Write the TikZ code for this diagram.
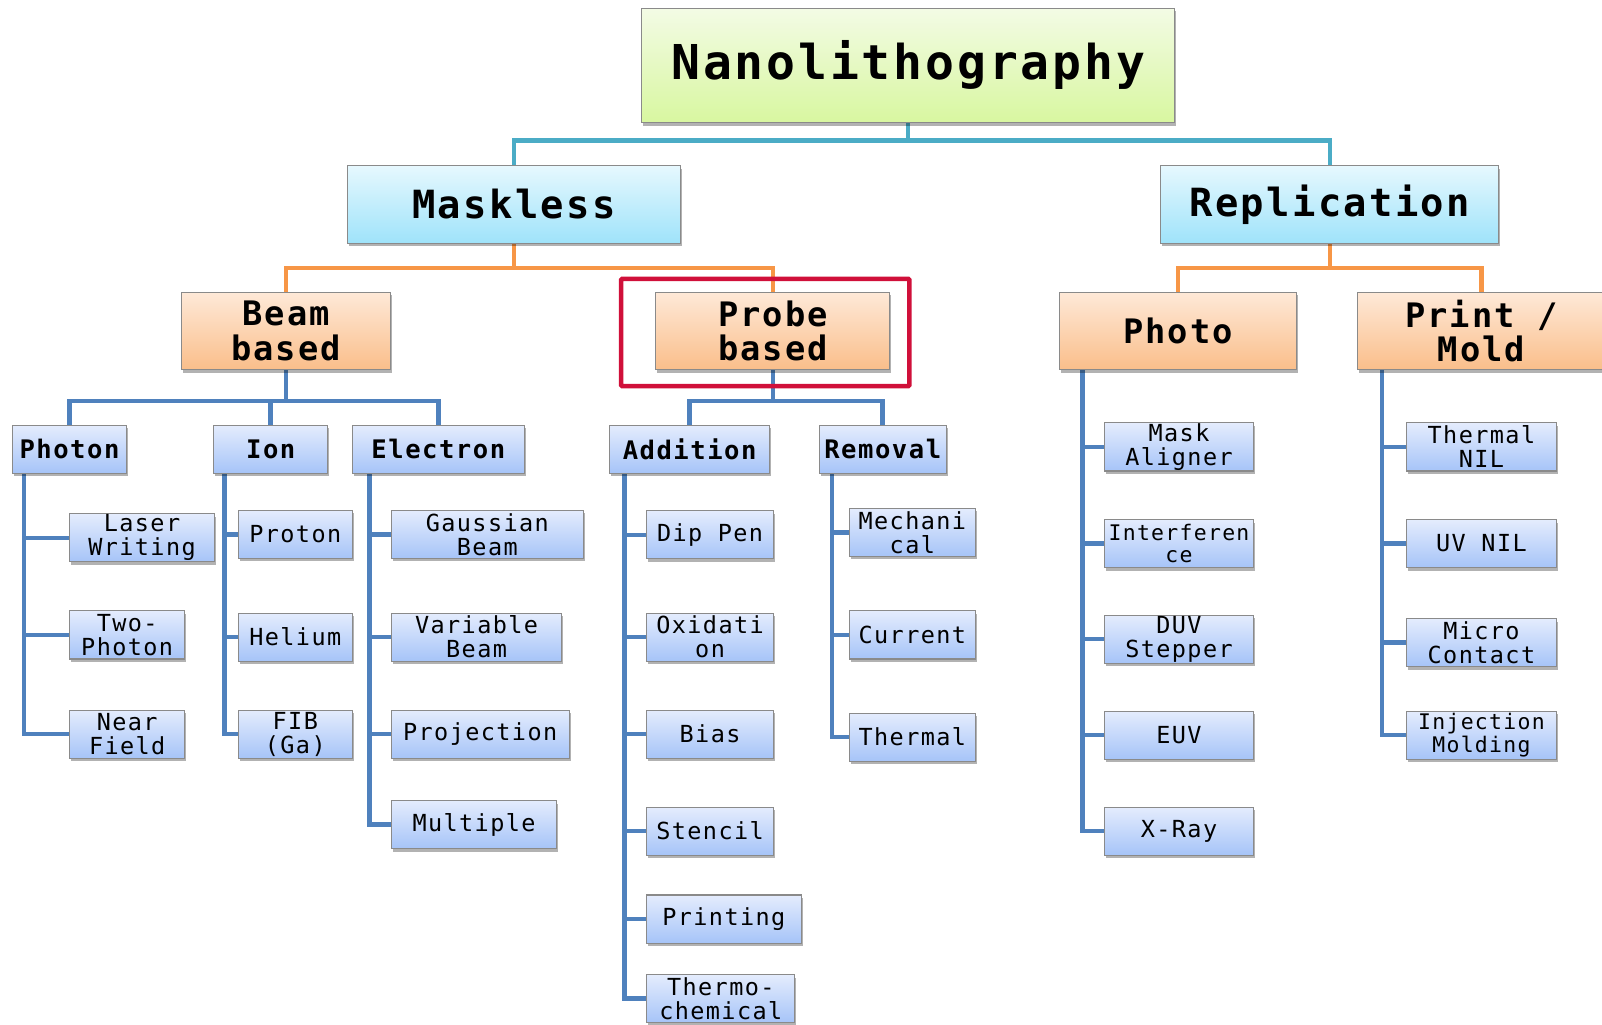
\documentclass[tikz,border=0pt]{standalone}
\usepackage{fontspec}
\newfontfamily\mono[LetterSpace=6]{DejaVu Sans Mono}
\usetikzlibrary{shadows,backgrounds}
\definecolor{tealline}{HTML}{4BACC6}
\definecolor{orangeline}{HTML}{F79646}
\definecolor{blueline}{HTML}{4F81BD}
\definecolor{redhl}{RGB}{208,16,58}
\definecolor{boxborder}{HTML}{8A8A8A}
\definecolor{greentop}{HTML}{F3FBE5}
\definecolor{greenbot}{HTML}{D8F7A0}
\definecolor{cyantop}{HTML}{E6F8FE}
\definecolor{cyanbot}{HTML}{9FE3FA}
\definecolor{orangetop}{HTML}{FEE9D8}
\definecolor{orangebot}{HTML}{FABE8A}
\definecolor{bluetop}{HTML}{E4ECFD}
\definecolor{bluebot}{HTML}{A6C4F8}
\tikzset{
  box/.style={draw=boxborder, line width=1pt, align=center, inner sep=0pt,
    drop shadow={shadow xshift=1.5pt, shadow yshift=-3pt, opacity=0.3, fill=black}},
  toplevel/.style={box, top color=greentop, bottom color=greenbot,
    font=\mono\bfseries\fontsize{47}{50}\selectfont},
  second/.style={box, top color=cyantop, bottom color=cyanbot, minimum height=76pt,
    font=\mono\bfseries\fontsize{38}{40}\selectfont},
  third/.style={box, top color=orangetop, bottom color=orangebot, minimum height=76pt,
    font=\mono\bfseries\fontsize{33}{34}\selectfont},
  fourth/.style={box, top color=bluetop, bottom color=bluebot, minimum height=47pt,
    font=\mono\bfseries\fontsize{25}{26}\selectfont},
  leaf/.style={box, top color=bluetop, bottom color=bluebot, minimum height=47pt,
    font=\mono\fontsize{23}{23.5}\selectfont},
  smallleaf/.style={leaf, font=\mono\fontsize{21}{22}\selectfont},
  tline/.style={draw=tealline, line width=4pt},
  oline/.style={draw=orangeline, line width=4pt},
  bline/.style={draw=blueline, line width=4.5pt},
  hlbox/.style={draw=redhl, line width=4.5pt, rounded corners=1pt, inner sep=0pt}
}
\begin{document}
\begin{tikzpicture}[x=1pt,y=-1pt]
\useasboundingbox (0,0) rectangle (1568,1003);
% level 1
\node[toplevel, minimum width=522pt, minimum height=112pt] (nano) at (889,64) {Nanolithography};
% level 2
\node[second, minimum width=326pt] (mask) at (503,200) {Maskless};
\node[second, minimum width=331pt] (repl) at (1301.5,200) {Replication};
% level 3
\node[third, minimum width=204pt] (beam) at (280,324) {Beam\\based};
\node[third, minimum width=229pt] (probe) at (756.5,324) {Probe\\based};
\node[third, minimum width=232pt] (photo) at (1153,324) {Photo};
\node[third, minimum width=242pt] (print) at (1450,324) {Print /\\Mold};
% level 4
\node[fourth, minimum width=112pt] (photon) at (68,439.5) {Photon};
\node[fourth, minimum width=112pt] (ion) at (265,439.5) {Ion};
\node[fourth, minimum width=168pt] (electron) at (429,439.5) {Electron};
\node[fourth, minimum width=156pt] (addition) at (675,439.5) {Addition};
\node[fourth, minimum width=124pt] (removal) at (864,439.5) {Removal};
% leaves: photon
\node[leaf, minimum width=142pt] (laser) at (139,526.5) {Laser\\Writing};
\node[leaf, minimum width=113pt] (twoph) at (124.5,621.5) {Two-\\Photon};
\node[leaf, minimum width=113pt] (near) at (124.5,718.5) {Near\\Field};
% ion
\node[leaf, minimum width=112pt] (proton) at (289,523) {Proton};
\node[leaf, minimum width=112pt] (helium) at (289,623.5) {Helium};
\node[leaf, minimum width=112pt] (fib) at (289,718.5) {FIB\\(Ga)};
% electron
\node[leaf, minimum width=188pt] (gauss) at (477,523) {Gaussian\\Beam};
\node[leaf, minimum width=167pt] (variable) at (466.5,623.5) {Variable\\Beam};
\node[leaf, minimum width=174pt] (projection) at (470,718.5) {Projection};
\node[leaf, minimum width=162pt] (multiple) at (464,807) {Multiple};
% addition
\node[leaf, minimum width=124pt] (dippen) at (695,523.5) {Dip Pen};
\node[leaf, minimum width=124pt] (oxid) at (695,623.5) {Oxidati\\on};
\node[leaf, minimum width=124pt] (bias) at (695,718.5) {Bias};
\node[leaf, minimum width=124pt] (stencil) at (695,813.5) {Stencil};
\node[leaf, minimum width=151pt] (printing) at (708.5,899.5) {Printing};
\node[leaf, minimum width=145pt] (thermochem) at (705.5,977.5) {Thermo-\\chemical};
% removal
\node[leaf, minimum width=124pt] (mech) at (893,521) {Mechani\\cal};
\node[leaf, minimum width=124pt] (current) at (893,621.5) {Current};
\node[leaf, minimum width=124pt] (thermal) at (893,721.5) {Thermal};
% photo
\node[leaf, minimum width=146pt] (maskal) at (1154,437.5) {Mask\\Aligner};
\node[smallleaf, minimum width=146pt] (interf) at (1154,532) {Interferen\\ce};
\node[leaf, minimum width=146pt] (duv) at (1154,625.5) {DUV\\Stepper};
\node[leaf, minimum width=146pt] (euv) at (1154,719.5) {EUV};
\node[leaf, minimum width=146pt] (xray) at (1154,813.5) {X-Ray};
% print / mold
\node[leaf, minimum width=146pt] (tnil) at (1450,437.5) {Thermal\\NIL};
\node[leaf, minimum width=146pt] (uvnil) at (1450,532) {UV NIL};
\node[leaf, minimum width=146pt] (micro) at (1450,629) {Micro\\Contact};
\node[smallleaf, minimum width=146pt] (inject) at (1450,719.5) {Injection\\Molding};
% highlight
\node[hlbox, minimum width=282pt, minimum height=105pt] (hl) at (749,325.5) {};
% connectors
\begin{scope}[on background layer]
\draw[tline] (nano.south) -- ++(0,17) -| (mask.north);
\draw[tline] (nano.south) -- ++(0,17) -| (repl.north);
\draw[oline] (mask.south) -- ++(0,24) -| (beam.north);
\draw[oline] (mask.south) -- ++(0,24) -| (probe.north);
\draw[oline] (repl.south) -- ++(0,24) -| (photo.north);
\draw[oline] (repl.south) -- ++(0,24) -| (print.north);
\draw[bline] (beam.south) -- ++(0,30) -| (photon.north);
\draw[bline] (beam.south) -- ++(0,30) -| (ion.north);
\draw[bline] (beam.south) -- ++(0,30) -| (electron.north);
\draw[bline] (probe.south) -- ++(0,30) -| (addition.north);
\draw[bline] (probe.south) -- ++(0,30) -| (removal.north);
\coordinate (vphoton) at ([xshift=12pt]photon.south west);
\coordinate (vion) at ([xshift=11pt]ion.south west);
\coordinate (velec) at ([xshift=17pt]electron.south west);
\coordinate (vadd) at ([xshift=15pt]addition.south west);
\coordinate (vrem) at ([xshift=13pt]removal.south west);
\coordinate (vphoto) at ([xshift=23pt]photo.south west);
\coordinate (vprint) at ([xshift=24pt]print.south west);
\draw[bline] (vphoton) |- (laser.west) (vphoton) |- (twoph.west) (vphoton) |- (near.west);
\draw[bline] (vion) |- (proton.west) (vion) |- (helium.west) (vion) |- (fib.west);
\draw[bline] (velec) |- (gauss.west) (velec) |- (variable.west) (velec) |- (projection.west) (velec) |- (multiple.west);
\draw[bline] (vadd) |- (dippen.west) (vadd) |- (oxid.west) (vadd) |- (bias.west) (vadd) |- (stencil.west) (vadd) |- (printing.west) (vadd) |- (thermochem.west);
\draw[bline] (vrem) |- (mech.west) (vrem) |- (current.west) (vrem) |- (thermal.west);
\draw[bline] (vphoto) |- (maskal.west) (vphoto) |- (interf.west) (vphoto) |- (duv.west) (vphoto) |- (euv.west) (vphoto) |- (xray.west);
\draw[bline] (vprint) |- (tnil.west) (vprint) |- (uvnil.west) (vprint) |- (micro.west) (vprint) |- (inject.west);
\end{scope}
\end{tikzpicture}
\end{document}
